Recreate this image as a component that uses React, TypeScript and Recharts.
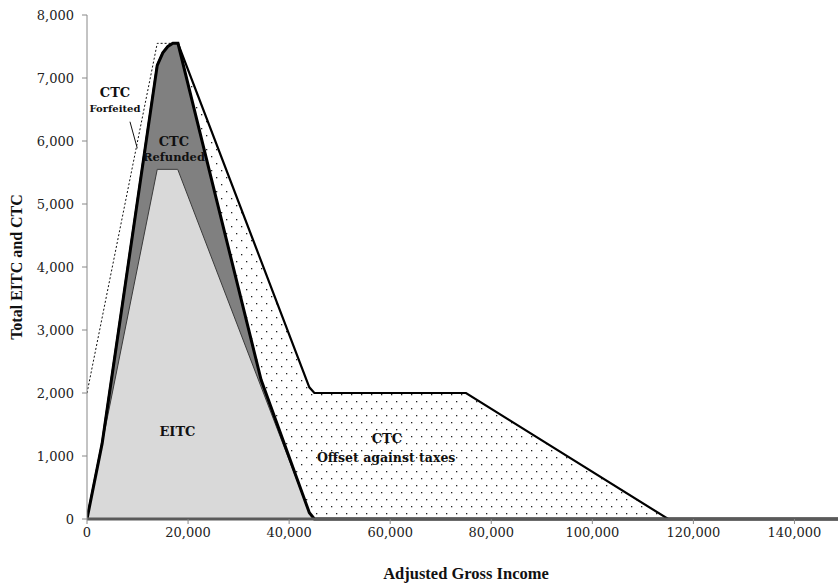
import { Area, ComposedChart, Line, ReferenceDot, ReferenceLine, XAxis, YAxis, Label } from "recharts";

// Piecewise points (AGI in $, credit in $)
const eitc = [
  { agi: 0, v: 0 },
  { agi: 13900, v: 5550 },
  { agi: 17950, v: 5550 },
  { agi: 44000, v: 100 },
  { agi: 45000, v: 0 },
  { agi: 150000, v: 0 },
];

// EITC + refundable CTC
const refundedTop = [
  { agi: 0, v: 0 },
  { agi: 3000, v: 1200 },
  { agi: 13900, v: 7200 },
  { agi: 15000, v: 7400 },
  { agi: 16000, v: 7500 },
  { agi: 17000, v: 7550 },
  { agi: 18000, v: 7550 },
  { agi: 25650, v: 5063 },
  { agi: 34450, v: 2210 },
  { agi: 44000, v: 100 },
  { agi: 45000, v: 0 },
  { agi: 150000, v: 0 },
];

// EITC + refunded CTC + CTC offset against taxes
const totalTop = [
  { agi: 0, v: 0 },
  { agi: 3000, v: 1200 },
  { agi: 13900, v: 7200 },
  { agi: 15000, v: 7400 },
  { agi: 16000, v: 7500 },
  { agi: 17000, v: 7550 },
  { agi: 18000, v: 7550 },
  { agi: 44000, v: 2090 },
  { agi: 45000, v: 2000 },
  { agi: 75000, v: 2000 },
  { agi: 115000, v: 0 },
  { agi: 150000, v: 0 },
];

// full EITC + CTC if nothing were forfeited
const forfeitedTop = [
  { agi: 0, v: 2000 },
  { agi: 13900, v: 7550 },
  { agi: 18000, v: 7550 },
];

const xTicks = [0, 20000, 40000, 60000, 80000, 100000, 120000, 140000];
const yTicks = [0, 1000, 2000, 3000, 4000, 5000, 6000, 7000, 8000];

const serif = "'Liberation Serif', 'Times New Roman', serif";
const noteFont = "'DejaVu Serif', serif";
const tickFont = "'DejaVu Serif', serif";
const fmt = (v: number) => v.toLocaleString("en-US");

function note(text: string, size: number) {
  return (p: any) => (
    <text
      x={p.cx}
      y={p.cy}
      textAnchor="middle"
      dominantBaseline="central"
      fontFamily={noteFont}
      fontWeight="bold"
      fontSize={size}
      fill="#111"
    >
      {text}
    </text>
  );
}

export default function App() {
  return (
    <div style={{ position: "fixed", left: 0, top: 0, width: 838, height: 585, overflow: "hidden", background: "#fff" }}>
      <ComposedChart width={850} height={585} margin={{ top: 15, right: 5, left: 0, bottom: 0 }}>
        <defs>
          <pattern id="dots" width="10" height="14" patternUnits="userSpaceOnUse">
            <rect width="10" height="14" fill="#fff" />
            <rect x="1" y="2" width="1.3" height="1.3" fill="#222" />
            <rect x="6" y="9" width="1.3" height="1.3" fill="#222" />
          </pattern>
        </defs>
        <XAxis
          type="number"
          dataKey="agi"
          domain={[0, 150000]}
          ticks={xTicks}
          allowDataOverflow
          height={66}
          tickFormatter={fmt}
          tick={{ fill: "#222", fontSize: 13, fontFamily: tickFont }}
          axisLine={{ stroke: "#5a5a5a", strokeWidth: 3 }}
          tickLine={{ stroke: "#888" }}
          tickSize={5}
          tickMargin={4}
        >
          <Label
            value="Adjusted Gross Income"
            position="insideBottom"
            offset={6}
            style={{ fontFamily: serif, fontWeight: "bold", fontSize: 16.5, fill: "#111" }}
          />
        </XAxis>
        <YAxis
          type="number"
          domain={[0, 8000]}
          ticks={yTicks}
          width={87}
          tickFormatter={fmt}
          tick={{ fill: "#222", fontSize: 13, fontFamily: tickFont }}
          axisLine={{ stroke: "#888" }}
          tickLine={{ stroke: "#888" }}
          tickSize={5}
          tickMargin={8}
        >
          <Label
            value="Total EITC and CTC"
            angle={-90}
            position="insideLeft"
            offset={16}
            style={{ textAnchor: "middle", fontFamily: serif, fontWeight: "bold", fontSize: 16, fill: "#111" }}
          />
        </YAxis>

        <Area
          data={forfeitedTop}
          dataKey="v"
          type="linear"
          fill="none"
          stroke="#111"
          strokeWidth={1}
          strokeDasharray="2 2"
          isAnimationActive={false}
        />
        <Area
          data={totalTop}
          dataKey="v"
          type="linear"
          fill="url(#dots)"
          fillOpacity={1}
          stroke="#000"
          strokeWidth={2.2}
          isAnimationActive={false}
        />
        <Area
          data={refundedTop}
          dataKey="v"
          type="linear"
          fill="#808080"
          fillOpacity={1}
          stroke="none"
          isAnimationActive={false}
        />
        <Area
          data={eitc}
          dataKey="v"
          type="linear"
          fill="#d9d9d9"
          fillOpacity={1}
          stroke="#3a3a3a"
          strokeWidth={1}
          isAnimationActive={false}
        />
        <Line
          data={refundedTop}
          dataKey="v"
          type="linear"
          stroke="#000"
          strokeWidth={3}
          dot={false}
          activeDot={false}
          isAnimationActive={false}
        />

        <ReferenceLine
          segment={[
            { x: 8505, y: 6306 },
            { x: 9950, y: 5884 },
          ]}
          stroke="#111"
          strokeWidth={1}
        />
        <ReferenceDot x={5540} y={6762} r={0} shape={note("CTC", 13)} />
        <ReferenceDot x={5540} y={6508} r={0} shape={note("Forfeited", 10)} />
        <ReferenceDot x={17210} y={5989} r={0} shape={note("CTC", 13)} />
        <ReferenceDot x={17210} y={5751} r={0} shape={note("Refunded", 11.5)} />
        <ReferenceDot x={17900} y={1386} r={0} shape={note("EITC", 13)} />
        <ReferenceDot x={59340} y={1270} r={0} shape={note("CTC", 13)} />
        <ReferenceDot x={59200} y={979} r={0} shape={note("Offset against taxes", 12.5)} />
      </ComposedChart>
    </div>
  );
}
